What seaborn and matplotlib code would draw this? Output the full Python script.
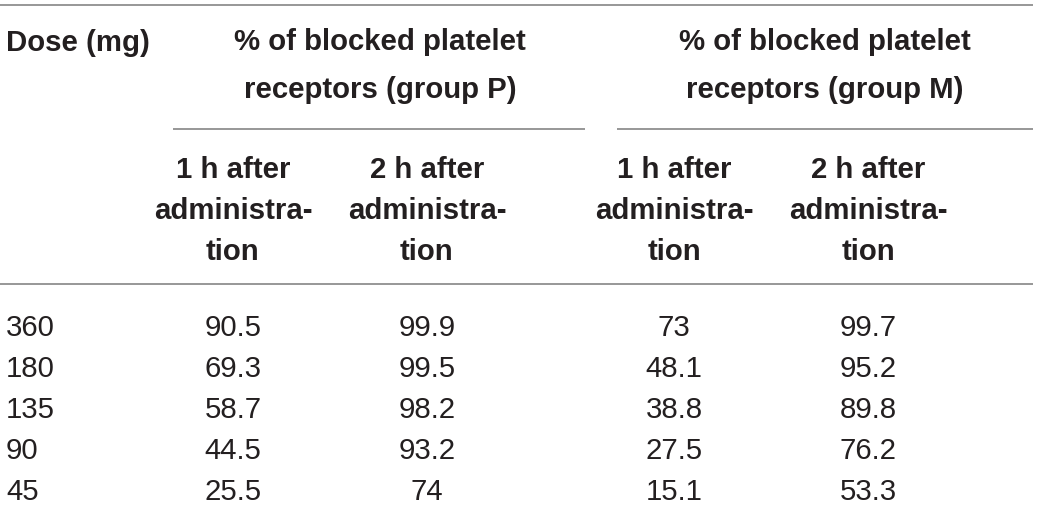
import numpy as np
import pandas as pd
import matplotlib
matplotlib.use("Agg")
import matplotlib.pyplot as plt
import seaborn as sns

# table contents
doses = ["360", "180", "135", "90", "45"]
group_p_1h = ["90.5", "69.3", "58.7", "44.5", "25.5"]
group_p_2h = ["99.9", "99.5", "98.2", "93.2", "74"]
group_m_1h = ["73", "48.1", "38.8", "27.5", "15.1"]
group_m_2h = ["99.7", "95.2", "89.8", "76.2", "53.3"]

first_header = "Dose (mg)"
group_headers = ["% of blocked platelet\nreceptors (group P)",
                 "% of blocked platelet\nreceptors (group M)"]
sub_headers = ["1 h after\nadministra-\ntion", "2 h after\nadministra-\ntion",
               "1 h after\nadministra-\ntion", "2 h after\nadministra-\ntion"]

table = pd.DataFrame({
    "dose": doses,
    "p_1h": group_p_1h,
    "p_2h": group_p_2h,
    "m_1h": group_m_1h,
    "m_2h": group_m_2h,
})

sns.set_theme(style="white")
plt.rcParams["font.family"] = ["Liberation Sans", "DejaVu Sans"]

TEXT = "#231f20"
RULE = "#8f8f8f"
FS = 21.2

fig = plt.figure(figsize=(10.39, 5.25), dpi=100)
ax = fig.add_axes([0, 0, 1, 1])
ax.set_xlim(0, 1039)
ax.set_ylim(525, 0)
ax.axis("off")

# layout
col_x = [233, 427, 674, 868]
group_x = [380, 825]
row_y = [328, 369, 410, 451, 492]

# rules
ax.hlines(5, 0, 1033, color=RULE, lw=1.3)
ax.hlines(129, 173, 585, color=RULE, lw=1.3)
ax.hlines(129, 617, 1033, color=RULE, lw=1.3)
ax.hlines(284, 0, 1033, color=RULE, lw=1.3)

# headers
ax.text(6, 43, first_header, fontsize=FS, fontweight="bold", color=TEXT,
        ha="left", va="center")
for gx, label in zip(group_x, group_headers):
    ax.text(gx, 66, label, fontsize=FS, fontweight="bold", color=TEXT,
            ha="center", va="center", linespacing=1.93)
for cx, label in zip(col_x, sub_headers):
    ax.text(cx, 211, label, fontsize=FS, fontweight="bold", color=TEXT,
            ha="center", va="center", linespacing=1.57)

# body
for i, row in table.iterrows():
    y = row_y[i]
    ax.text(6, y, row["dose"], fontsize=FS, color=TEXT, ha="left", va="center")
    for cx, key in zip(col_x, ["p_1h", "p_2h", "m_1h", "m_2h"]):
        ax.text(cx, y, row[key], fontsize=FS, color=TEXT, ha="center", va="center")

fig.savefig("out.png", dpi=100, facecolor="white")
